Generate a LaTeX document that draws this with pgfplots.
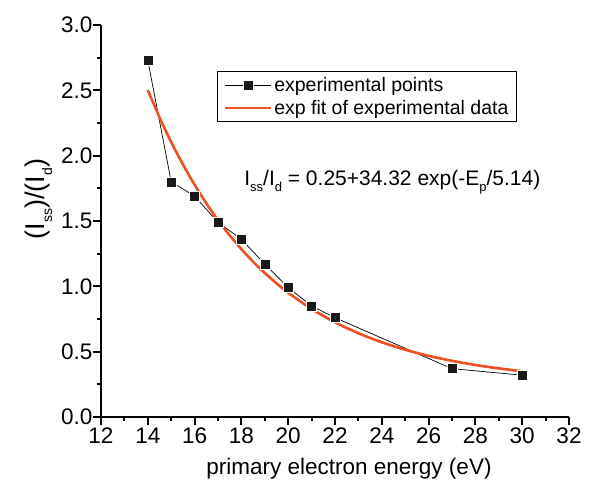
\documentclass[border=0pt]{standalone}
\usepackage{fontspec}
\setmainfont{Liberation Sans}
\usepackage{pgfplots}
\pgfplotsset{compat=1.18}
\definecolor{fitred}{HTML}{F04E23}
\newcommand{\sub}[2][11]{\raisebox{-0.55ex}{\fontsize{#1}{#1}\selectfont #2}}
\begin{document}
\begin{tikzpicture}
\begin{axis}[
  scale only axis,
  width=468pt, height=392pt,
  xmin=12, xmax=32, ymin=0, ymax=3.0,
  axis x line*=bottom, axis y line*=left,
  axis line style={line width=2.2pt, -},
  xtick={12,14,...,32}, ytick={0,0.5,...,3.0},
  minor x tick num=1, minor y tick num=1,
  tick align=outside,
  major tick length=8pt, minor tick length=4pt,
  every tick/.style={black, line width=2pt},
  /pgf/number format/assume math mode=true,
  xticklabel style={font=\fontsize{22.5}{22.5}\selectfont, yshift=1pt},
  yticklabel style={font=\fontsize{22.5}{22.5}\selectfont, xshift=3pt,
    /pgf/number format/.cd, fixed, fixed zerofill, precision=1},
  xlabel={primary electron energy (eV)},
  xlabel style={font=\fontsize{22.5}{22.5}\selectfont, yshift=-8pt, xshift=14pt},
  ylabel={(I\sub[14]{ss})/(I\sub[14]{d})},
  ylabel style={font=\fontsize{27}{27}\selectfont, yshift=2pt, xshift=22pt},
  legend style={at={(0.248,0.883)}, anchor=north west, draw=black,
    line width=1.2pt, font=\fontsize{19.5}{22}\selectfont,
    inner xsep=6pt, inner ysep=4pt, row sep=3pt,
    /tikz/every even column/.append style={column sep=2pt}},
  legend image code/.code={\draw[mark repeat=2, mark phase=2, #1]
    plot coordinates {(0pt,0pt) (23pt,0pt) (46pt,0pt)};},
  legend cell align=left,
  clip=false,
]
\addplot[black, line width=0.7pt, mark=square*, mark size=5pt,
  mark options={solid, fill=black!90, draw=white, line width=0.4pt}] coordinates {
  (14,2.73) (15,1.80) (16,1.69) (17,1.49) (18,1.36) (19,1.17)
  (20,0.99) (21,0.85) (22,0.76) (27,0.37) (30,0.32)
};
\addlegendentry{experimental points}
\addplot[fitred, line width=2.6pt, smooth] coordinates {
  (14,2.502) (14.5,2.293) (15,2.104) (15.5,1.933) (16,1.777) (16.5,1.635)
  (17,1.507) (17.5,1.390) (18,1.285) (18.5,1.188) (19,1.102) (19.5,1.023)
  (20,0.951) (21,0.827) (22,0.725) (23,0.641) (24,0.572) (25,0.515)
  (26,0.468) (27,0.430) (28,0.398) (29,0.372) (30,0.350)
};
\addlegendentry{exp fit of experimental data}
\node[anchor=center, font=\fontsize{21}{21}\selectfont] at (axis cs:24.45,1.80)
  {I\sub[13]{ss}/I\sub[13]{d} = 0.25+34.32 exp(-E\sub[13]{p}/5.14)};
\end{axis}
\path ([xshift=-101pt,yshift=-68pt]current axis.south west) rectangle
  ([xshift=32pt,yshift=25pt]current axis.north east);
\end{tikzpicture}
\end{document}
